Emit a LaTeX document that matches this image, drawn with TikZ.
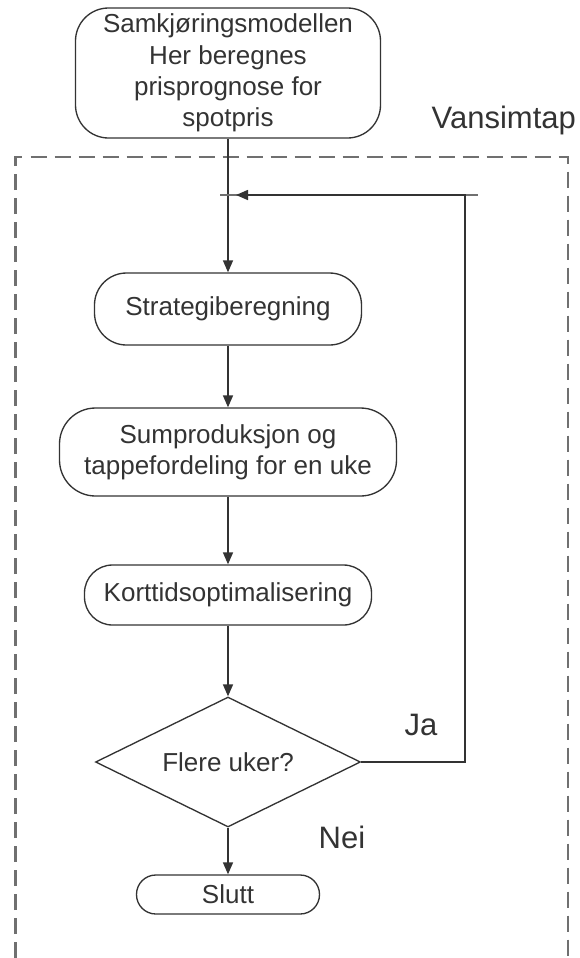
\documentclass[tikz,border=0pt]{standalone}
\usepackage{fontspec}
\setmainfont{Liberation Sans}
\usetikzlibrary{shapes.geometric,arrows.meta}
\definecolor{ink}{HTML}{333333}
\definecolor{dashgray}{HTML}{707070}
\begin{document}
\begin{tikzpicture}[x=0.75pt,y=-0.75pt,
  every node/.style={text=ink,font=\fontsize{19.5}{23.5}\selectfont},
  box/.style={draw=ink,line width=1pt,align=center,inner sep=0pt},
  conn/.style={draw=ink,line width=1.2pt,-{Triangle[length=9pt,width=7.5pt]}},
  lbl/.style={font=\fontsize{23.25}{26}\selectfont}]
\useasboundingbox (0,0) rectangle (580,958);
% dashed frame
\draw[dashgray,line width=1.9pt,dash pattern=on 12pt off 6pt] (15.5,958) -- (15.5,157) -- (568,157) -- (568,958);
\node[lbl,anchor=west] (vans) at (427,120) {Vansimtap};
% nodes
\node[box,minimum width=228.75pt,minimum height=97.5pt,rounded corners=24.75pt] (top) at (228,73)
  {Samkjøringsmodellen\\Her beregnes\\prisprognose for\\spotpris};
\node[box,minimum width=200.25pt,minimum height=54pt,rounded corners=24pt] (strat) at (228,309) {Strategiberegning};
\node[box,minimum width=252.75pt,minimum height=66pt,rounded corners=27pt] (sump) at (228,452)
  {Sumproduksjon og\\tappefordeling for en uke};
\node[box,minimum width=215.25pt,minimum height=45pt,rounded corners=21pt] (kort) at (228,595) {Korttidsoptimalisering};
\node[box,diamond,shape aspect=2.04,minimum width=198.75pt,minimum height=97.5pt] (dia) at (228,762) {Flere uker?};
\node[box,minimum width=137.25pt,minimum height=29.25pt,rounded corners=14.5pt] (slutt) at (228,894.5) {Slutt};
\node[lbl] (ja) at (421,725) {Ja};
\node[lbl] (nei) at (342,837) {Nei};
% loop helpers
\coordinate (stubL) at (220,195);
\coordinate (stubR) at (478,195);
\coordinate (corner) at (465,195);
\coordinate (tip) at (236,195);
% connectors
\draw[conn] (top.south) -- (strat.north);
\draw[conn] (strat.south) -- (sump.north);
\draw[conn] (sump.south) -- (kort.north);
\draw[conn] (kort.south) -- (dia.north);
\draw[conn] (dia.south) -- (slutt.north);
\draw[draw=ink!70,line width=1.2pt] (stubL) -- (stubR);
\draw[conn] (dia.east) -| (corner) -- (tip);
\end{tikzpicture}
\end{document}
